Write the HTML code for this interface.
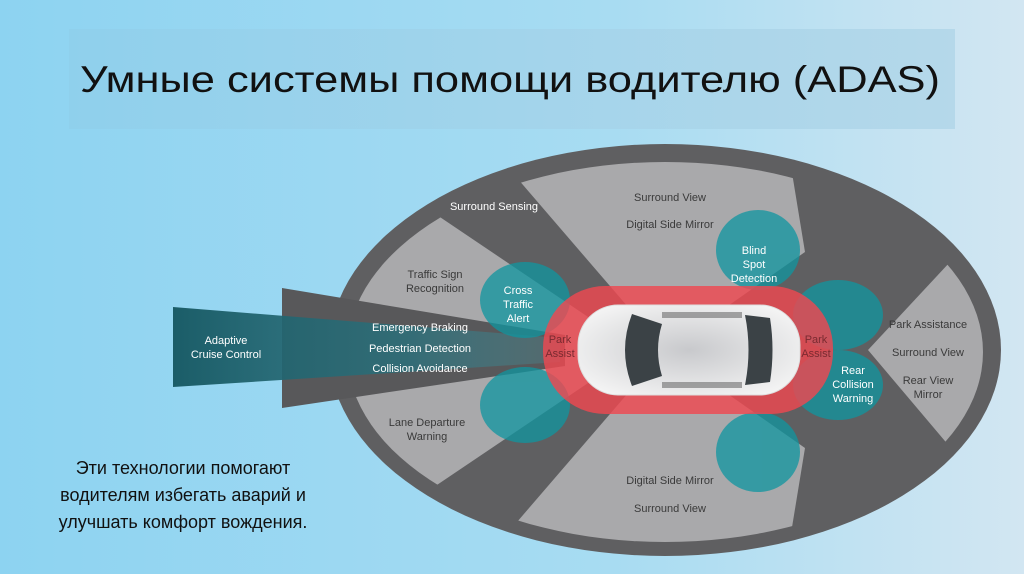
<!DOCTYPE html>
<html><head><meta charset="utf-8"><style>
html,body{margin:0;padding:0;}
body{width:1024px;height:574px;overflow:hidden;font-family:"Liberation Sans",sans-serif;}
</style></head><body>
<svg width="1024" height="574" viewBox="0 0 1024 574" xmlns="http://www.w3.org/2000/svg" font-family="Liberation Sans, sans-serif">
<defs>
<linearGradient id="bg" x1="0" y1="0" x2="1" y2="0">
<stop offset="0" stop-color="#8dd3f1"/><stop offset="0.6" stop-color="#a8dcf2"/><stop offset="1" stop-color="#d2e6f2"/></linearGradient>
<linearGradient id="tb" x1="0" y1="0" x2="1" y2="0">
<stop offset="0" stop-color="#8fd0ec"/><stop offset="1" stop-color="#b5d8ea"/></linearGradient>
<linearGradient id="acc" x1="0" y1="0" x2="1" y2="0">
<stop offset="0" stop-color="#1b5d68"/><stop offset="0.6" stop-color="#2b6f7a" stop-opacity="0.85"/><stop offset="1" stop-color="#4a8f98" stop-opacity="0.3"/></linearGradient>
<radialGradient id="car" cx="0.5" cy="0.5" r="0.6"><stop offset="0" stop-color="#c8c9cc"/><stop offset="1" stop-color="#f4f4f4"/></radialGradient>
<clipPath id="inner"><ellipse cx="665" cy="352" rx="318" ry="190"/></clipPath>
</defs>
<rect width="1024" height="574" fill="url(#bg)"/>
<rect x="69" y="29" width="886" height="100" fill="url(#tb)"/>
<text x="80" y="92" font-size="37" fill="#111" textLength="860" lengthAdjust="spacingAndGlyphs">Умные системы помощи водителю (ADAS)</text>

<ellipse cx="665" cy="350" rx="336" ry="206" fill="#5f5f61"/>
<g clip-path="url(#inner)" fill="#a9a9ab">
<polygon points="665,350 480,135 785,130 805,252"/>
<polygon points="665,350 480,565 785,570 805,448"/>
<polygon points="600,325 385,180 330,180 330,520 385,520 600,375"/>
<polygon points="868,350 950,262 1010,245 1010,460 950,447"/>
</g>
<polygon points="282,288 565,335 565,366 282,408" fill="#58585a"/>
<polygon points="173,307 560,338 560,362 173,387" fill="url(#acc)"/>
<g fill="#0f96a0" opacity="0.75">
<ellipse cx="525" cy="300" rx="45" ry="38"/>
<ellipse cx="525" cy="405" rx="45" ry="38"/>
<ellipse cx="758" cy="250" rx="42" ry="40"/>
<ellipse cx="758" cy="452" rx="42" ry="40"/>
<ellipse cx="838" cy="315" rx="45" ry="35"/>
<ellipse cx="838" cy="385" rx="45" ry="35"/>
</g>
<rect x="543" y="286" width="290" height="128" rx="62" fill="#ee4850" opacity="0.82"/>
<rect x="578" y="305" width="222" height="90" rx="40" fill="url(#car)" stroke="#ddd"/>
<path d="M632 314 Q618 350 632 386 L662 376 Q654 350 662 324 Z" fill="#3b4246"/>
<path d="M745 315 Q752 350 745 385 L770 382 Q775 350 770 318 Z" fill="#3b4246"/>
<rect x="662" y="312" width="80" height="6" fill="#555" opacity="0.5"/>
<rect x="662" y="382" width="80" height="6" fill="#555" opacity="0.5"/>

<g font-size="11" fill="#3a3a3a" text-anchor="middle">
<text x="670" y="201">Surround View</text>
<text x="670" y="228">Digital Side Mirror</text>
<text x="670" y="484">Digital Side Mirror</text>
<text x="670" y="512">Surround View</text>
<text x="435" y="278">Traffic Sign</text>
<text x="435" y="292">Recognition</text>
<text x="427" y="426">Lane Departure</text>
<text x="427" y="440">Warning</text>
<text x="928" y="328">Park Assistance</text>
<text x="928" y="356">Surround View</text>
<text x="928" y="384">Rear View</text>
<text x="928" y="398">Mirror</text>
</g>
<g font-size="11" fill="#fff" text-anchor="middle">
<text x="494" y="210">Surround Sensing</text>
<text x="420" y="331">Emergency Braking</text>
<text x="420" y="352">Pedestrian Detection</text>
<text x="420" y="372">Collision Avoidance</text>
<text x="226" y="344">Adaptive</text>
<text x="226" y="358">Cruise Control</text>
<text x="518" y="294">Cross</text>
<text x="518" y="308">Traffic</text>
<text x="518" y="322">Alert</text>
<text x="754" y="254">Blind</text>
<text x="754" y="268">Spot</text>
<text x="754" y="282">Detection</text>
<text x="853" y="374">Rear</text>
<text x="853" y="388">Collision</text>
<text x="853" y="402">Warning</text>
</g>
<g font-size="11" fill="#7a2a30" text-anchor="middle">
<text x="560" y="343">Park</text><text x="560" y="357">Assist</text>
<text x="816" y="343">Park</text><text x="816" y="357">Assist</text>
</g>
<g font-size="18" fill="#111" text-anchor="middle">
<text x="183" y="474">Эти технологии помогают</text>
<text x="183" y="501">водителям избегать аварий и</text>
<text x="183" y="528">улучшать комфорт вождения.</text>
</g>
</svg>
</body></html>
